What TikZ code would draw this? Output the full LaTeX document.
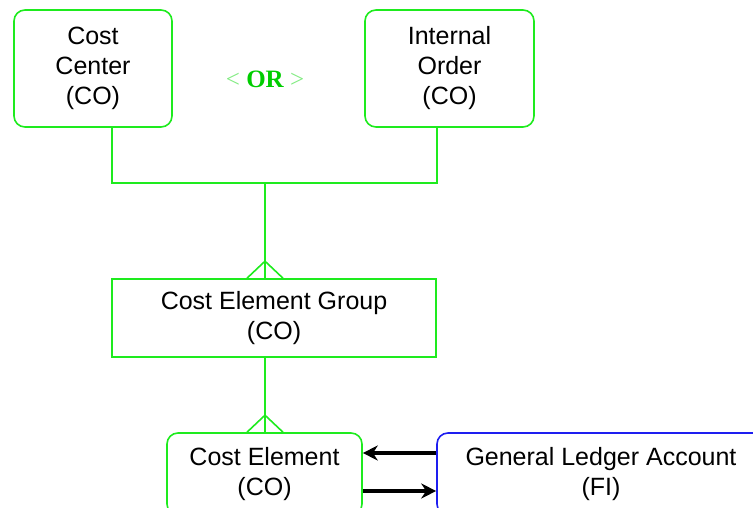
\documentclass[tikz,border=0pt]{standalone}
\usepackage{fontspec}
\setmainfont{Liberation Sans}
\newfontfamily\orfont{Liberation Serif}
\usepackage{tikz}
\usetikzlibrary{arrows.meta, positioning, calc}
\definecolor{linegreen}{RGB}{30,235,30}
\definecolor{lineblue}{RGB}{30,30,240}
\definecolor{orgreen}{RGB}{0,205,0}
\definecolor{ltgreen}{RGB}{130,235,130}
\tikzstyle{entity} = [rectangle, rounded corners=11pt, draw=linegreen, line width=1.6pt, align=center, font=\fontsize{25}{30}\selectfont, inner sep=0pt]
\tikzstyle{group} = [entity, sharp corners]
\tikzstyle{external} = [entity, draw=lineblue]
\tikzstyle{link} = [draw=linegreen, line width=1.6pt]
\tikzset{feed/.style={draw=black, line width=3.2pt, -{Stealth[length=15pt,width=15pt]}}}

\begin{document}
\begin{tikzpicture}[x=1pt, y=-1pt]
\clip (0,0) rectangle (753,508);
% Cost objects
\node[entity, minimum width=158pt, minimum height=117pt] (cc) at (93,68.5) {Cost\\Center\\(CO)};
\node[entity, minimum width=169pt, minimum height=117pt] (io) at (449.5,68.5) {Internal\\Order\\(CO)};
\node[font=\orfont\fontsize{25}{28}\selectfont] (or) at (265,79) {\textcolor{ltgreen}{<} \textcolor{orgreen}{\bfseries OR} \textcolor{ltgreen}{>}};

% Group
\node[group, minimum width=324pt, minimum height=78pt] (ceg) at (274,318) {Cost Element Group\\(CO)};

% Elements
\node[entity, minimum width=195pt, minimum height=82pt] (ce) at (264.5,474) {Cost Element\\(CO)};
\node[external, minimum width=328pt, minimum height=82pt] (gl) at (601,474) {General Ledger Account\\(FI)};

% Links
\coordinate (join) at (265,183);
\draw[link] ([xshift=19pt]cc.south) |- (join) -| ([xshift=-12.5pt]io.south);
\draw[link] (join) -- (join |- ceg.north);
\draw[link] ($(join |- ceg.north)+(-18,0)$) -- ($(join |- ceg.north)+(0,-17)$) -- ($(join |- ceg.north)+(18,0)$);
\draw[link] (join |- ceg.south) -- (join |- ce.north);
\draw[link] ($(join |- ce.north)+(-18,0)$) -- ($(join |- ce.north)+(0,-17)$) -- ($(join |- ce.north)+(18,0)$);

% Arrows
\draw[feed] ([yshift=21pt]gl.west) -- ([yshift=21pt]ce.east);
\draw[feed] ([yshift=-17pt]ce.east) -- ([yshift=-17pt]gl.west);
\end{tikzpicture}
\end{document}
